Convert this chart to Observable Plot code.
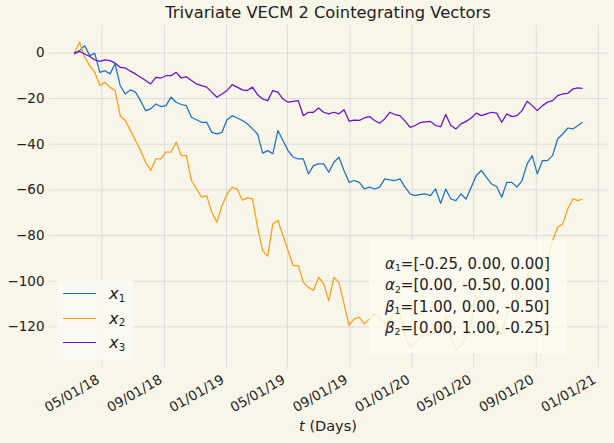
<!DOCTYPE html>
<html><head><meta charset="utf-8">
<script src="https://cdn.jsdelivr.net/npm/d3@7"></script>
<script src="https://cdn.jsdelivr.net/npm/@observablehq/plot@0.6"></script>
<style>
html,body{margin:0;padding:0;background:#f8f5e9;}
#wrap{position:relative;width:614px;height:443px;overflow:hidden;font-family:"DejaVu Sans",sans-serif;color:#222;background:#f8f5e9;}
#title{position:absolute;left:49px;width:558px;top:3px;text-align:center;font-size:16.3px;line-height:20px;}
#chart{position:absolute;left:0;top:20px;}
#xlabel{position:absolute;left:49px;width:558px;top:417px;text-align:center;font-size:14.5px;line-height:18px;}
#legend{position:absolute;left:57px;top:280px;width:76px;height:80px;background:rgba(252,250,242,0.85);}
.lrow{position:absolute;left:0;height:24px;width:76px;}
.lline{position:absolute;left:6px;width:33px;top:11px;height:0;border-top:1.4px solid;}
.ltext{position:absolute;left:52px;top:0px;font-size:16.5px;line-height:24px;}
sub{font-size:62%;position:relative;top:0.25em;vertical-align:baseline;line-height:0;font-style:normal;}
#note{position:absolute;left:369px;top:240px;width:198px;height:113px;background:rgba(254,252,241,0.8);}
#note .txt{position:absolute;left:16px;top:14px;font-size:15px;line-height:21.3px;white-space:nowrap;}
</style></head>
<body>
<div id="wrap">
  <div id="title">Trivariate VECM 2 Cointegrating Vectors</div>
  <div id="chart"></div>
  <div id="xlabel"><i>t</i> (Days)</div>
  <div id="legend"></div>
  <div id="note"><div class="txt"></div></div>
</div>
<script>
// Series labels and colours
const seriesNames = ["x1", "x2", "x3"];
const seriesColors = ["#1a6fc9", "#ff9d14", "#6a0dcf"];
// Sampling: every 10 days from the first observation, plus the final observation
const startDate = "2018-03-08";
const stepDays = 10;
const endDate = "2020-11-30";
// Values
const x1 = [-0.5, 1.0, 3.2, -1.2, -0.2, -8.5, -7.8, -9.2, -4.8, -14.3,
  -18.0, -16.2, -17.2, -20.9, -25.3, -24.5, -22.4, -23.5, -23.1, -19.4,
  -21.6, -22.6, -23.1, -28.2, -29.3, -30.4, -30.4, -34.8, -35.5, -34.8,
  -29.3, -27.5, -28.5, -29.6, -31.0, -33.3, -35.5, -43.9, -42.8, -44.2,
  -34.0, -38.4, -42.8, -45.7, -46.4, -46.4, -53.0, -49.4, -48.6, -48.6,
  -52.3, -47.9, -45.7, -51.5, -56.7, -55.9, -56.7, -59.6, -58.8, -59.6,
  -58.8, -55.2, -55.6, -55.9, -55.2, -58.8, -61.8, -62.5, -62.0, -61.8,
  -62.5, -59.6, -65.9, -59.6, -64.0, -64.7, -61.8, -64.0, -58.8, -53.7,
  -51.5, -54.5, -57.4, -58.5, -63.2, -56.7, -56.7, -58.8, -55.9, -48.6,
  -45.0, -53.0, -47.2, -47.2, -45.0, -37.7, -35.5, -32.9, -33.3, -31.8, -30.5];
const x2 = [0.0, 4.7, -1.9, -5.6, -8.5, -14.3, -12.9, -15.1, -16.5, -27.5,
  -29.6, -34.0, -38.4, -42.8, -47.9, -51.5, -46.4, -46.4, -43.5, -43.5,
  -39.1, -45.0, -45.0, -55.9, -59.6, -63.2, -62.5, -69.8, -74.2, -66.9,
  -61.8, -58.9, -59.6, -64.5, -63.5, -63.9, -76.4, -86.6, -89.0, -74.9,
  -73.4, -80.0, -86.6, -93.2, -93.2, -100.5, -102.7, -104.1, -98.3, -101.2,
  -108.5, -98.3, -100.5, -109.9, -119.4, -116.5, -115.8, -118.7, -116.5, -114.3,
  -115.8, -118.7, -117.2, -113.6, -114.3, -123.8, -129.0, -126.8, -124.5, -123.4,
  -123.8, -121.6, -122.3, -115.0, -123.8, -130.1, -128.2, -124.5, -118.0, -106.3,
  -107.8, -112.1, -114.3, -119.4, -123.4, -114.3, -110.7, -112.9, -104.1, -98.3,
  -92.4, -94.2, -94.6, -91.7, -82.2, -76.4, -74.9, -68.3, -63.9, -64.7, -64.0];
const x3 = [0.0, 0.7, -0.5, -1.6, -3.1, -3.7, -3.1, -3.4, -4.5, -6.3,
  -6.6, -8.0, -9.2, -10.7, -12.1, -13.6, -10.7, -11.0, -10.0, -10.0,
  -8.5, -11.0, -10.4, -12.1, -13.6, -14.3, -15.0, -17.2, -19.4, -18.0,
  -16.5, -13.9, -15.0, -16.2, -16.5, -15.0, -18.3, -20.2, -20.9, -16.5,
  -17.2, -20.2, -21.6, -21.2, -20.9, -27.5, -26.0, -26.0, -24.1, -26.0,
  -26.7, -26.0, -26.7, -24.9, -29.9, -29.4, -29.6, -28.5, -27.9, -29.6,
  -30.8, -28.9, -26.0, -27.0, -27.5, -29.9, -32.6, -31.8, -30.5, -30.2,
  -30.0, -31.8, -32.3, -27.0, -31.8, -33.3, -31.1, -30.0, -28.5, -26.4,
  -27.5, -26.7, -26.0, -26.4, -30.4, -26.7, -27.9, -27.5, -25.3, -21.2,
  -23.1, -25.3, -23.1, -21.6, -20.9, -18.7, -18.0, -17.7, -15.8, -15.3, -15.5];
// Axis ticks
const xTicks = ["2018-05-01", "2018-09-01", "2019-01-01", "2019-05-01", "2019-09-01",
  "2020-01-01", "2020-05-01", "2020-09-01", "2021-01-01"];
const yTicks = [0, -20, -40, -60, -80, -100, -120];
const xDomain = ["2018-01-18", "2021-01-19"];
const yDomain = [-137.8, 12];
// Annotation text
const alphas = [["α", "1", "[-0.25, 0.00, 0.00]"], ["α", "2", "[0.00, -0.50, 0.00]"]];
const betas = [["β", "1", "[1.00, 0.00, -0.50]"], ["β", "2", "[0.00, 1.00, -0.25]"]];

const parse = d3.utcParse("%Y-%m-%d");
const n = x1.length;
const dates = d3.range(n - 1).map(i => d3.utcDay.offset(parse(startDate), i * stepDays));
dates.push(parse(endDate));
const seriesValues = [x1, x2, x3];
const rows = [];
seriesNames.forEach((s, k) => seriesValues[k].forEach((v, i) => rows.push({series: s, date: dates[i], value: v})));
const xTickDates = xTicks.map(parse);

const chart = Plot.plot({
  width: 614, height: 423,
  marginTop: 5, marginRight: 7, marginBottom: 76, marginLeft: 49,
  style: {background: "transparent", fontFamily: "DejaVu Sans, sans-serif", fontSize: "13.5px", color: "#222", overflow: "visible"},
  x: {type: "utc", domain: xDomain.map(parse)},
  y: {domain: yDomain},
  color: {domain: seriesNames, range: seriesColors},
  marks: [
    Plot.gridX(xTickDates, {stroke: "#dcdcdc", strokeOpacity: 1, strokeWidth: 1}),
    Plot.gridY(yTicks, {stroke: "#dcdcdc", strokeOpacity: 1, strokeWidth: 1}),
    Plot.axisX(xTickDates, {tickFormat: d3.utcFormat("%m/%d/%y"), tickRotate: -30, tickSize: 0,
      tickPadding: 11, dx: -3.5, label: null, fontSize: 13.5}),
    Plot.axisY(yTicks, {tickFormat: d3.format("d"), tickSize: 0, tickPadding: 5, label: null, fontSize: 13.5}),
    Plot.line(rows, {x: "date", y: "value", z: "series", stroke: "series", strokeWidth: 1.25})
  ]
});
document.getElementById("chart").appendChild(chart);

// legend
const legend = document.getElementById("legend");
seriesNames.forEach((s, k) => {
  const row = document.createElement("div");
  row.className = "lrow";
  row.style.top = (2 + k * 24.5) + "px";
  row.innerHTML = `<div class="lline" style="border-color:${seriesColors[k]}"></div><div class="ltext"><i>x</i><sub>${k + 1}</sub></div>`;
  legend.appendChild(row);
});
// annotation
const txt = document.querySelector("#note .txt");
txt.innerHTML = alphas.concat(betas).map(([g, i, v]) => `<div><i>${g}</i><sub>${i}</sub>=${v}</div>`).join("");
</script>
</body></html>
